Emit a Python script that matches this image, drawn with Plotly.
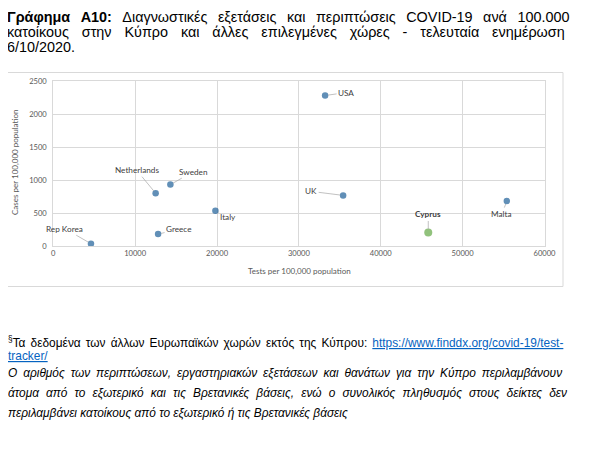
import plotly.graph_objects as go

W, H = 590, 451
OFF = 8  # page margin of the browser body

# data
countries = ["Rep Korea", "Greece", "Netherlands", "Sweden", "Italy", "USA", "UK", "Cyprus", "Malta"]
tests = [4600, 12800, 12500, 14300, 19800, 33200, 35400, 45800, 55400]
cases = [35, 180, 800, 930, 535, 2280, 767, 205, 680]

x_ticks = [0, 10000, 20000, 30000, 40000, 50000, 60000]
y_ticks = [0, 500, 1000, 1500, 2000, 2500]

title_lines = [
    "<b>Γράφημα A10:</b> Διαγνωστικές εξετάσεις και περιπτώσεις COVID-19 ανά 100.000",
    "κατοίκους στην Κύπρο και άλλες επιλεγμένες χώρες - τελευταία ενημέρωση",
    "6/10/2020.",
]
note_text = "Τα δεδομένα των άλλων Ευρωπαϊκών χωρών εκτός της Κύπρου: "
link_text = ["https://www.finddx.org/covid-19/test-", "tracker/"]
italic_lines = [
    "Ο αριθμός των περιπτώσεων, εργαστηριακών εξετάσεων και θανάτων για την Κύπρο περιλαμβάνουν",
    "άτομα από το εξωτερικό και τις Βρετανικές βάσεις, ενώ ο συνολικός πληθυσμός στους δείκτες δεν",
    "περιλαμβάνει κατοίκους από το εξωτερικό ή τις Βρετανικές βάσεις",
]

# label offsets in pixels (dx, dy) from each point
label_off = {
    "Rep Korea": (-26, -15), "Greece": (21, -5), "Netherlands": (-19, -23),
    "Sweden": (23, -13), "Italy": (13, 6), "USA": (21, -3), "UK": (-32, -4),
    "Cyprus": (0, -18), "Malta": (-5, 13),
}


def px(x):
    return (x - OFF) / W


def py(y):
    return 1 - (y - OFF) / H


blue = "#1e6099"
green = "#62a845"
colors = [green if c == "Cyprus" else blue for c in countries]
sizes = [8 if c == "Cyprus" else 6.5 for c in countries]
small = dict(family="Lato", size=8, color="#595959")

fig = go.Figure()
fig.add_trace(go.Scatter(
    x=tests, y=cases, mode="markers",
    marker=dict(color=colors, size=sizes, line=dict(width=0)),
    hoverinfo="skip", showlegend=False,
))

ann = []
for c, t, v in zip(countries, tests, cases):
    dx, dy = label_off[c]
    txt = "<b>%s</b>" % c if c == "Cyprus" else c
    ann.append(dict(x=t, y=v, xref="x", yref="y", text=txt, showarrow=True,
                    ax=dx, ay=dy, arrowhead=0, arrowwidth=0.7, arrowcolor="#a6a6a6",
                    standoff=3, font=dict(family="Lato", size=8.2, color="#404040")))

# axis titles
ann.append(dict(x=px(299), y=py(271), xref="paper", yref="paper", showarrow=False,
                text="Tests per 100,000 population", font=small))
ann.append(dict(x=px(8), y=py(163), xref="paper", yref="paper", showarrow=False,
                text="Cases per 100,000 population", textangle=-90, font=small))


def text_line(s, x, y, size, spacing=0, italic=False):
    if italic:
        s = "<i>%s</i>" % s
    if spacing:
        s = "<span style='word-spacing:%.1fpx'>%s</span>" % (spacing, s)
    return dict(x=px(x), y=py(y), xref="paper", yref="paper", text=s, showarrow=False,
                xanchor="left", yanchor="middle",
                font=dict(family="Liberation Sans", size=size, color="#000000"))


ann.append(text_line(title_lines[0], 5, 17, 14.4, 6.5))
ann.append(text_line(title_lines[1], 5, 32, 14.4, 8.9))
ann.append(text_line(title_lines[2], 5, 47, 14.4))

link_style = "color:#0563c1;text-decoration:underline"
ann.append(text_line("<sup>§</sup>" + note_text
                     + "<span style='%s'>%s</span>" % (link_style, link_text[0]),
                     6, 342, 11.9, 1.8))
ann.append(text_line("<span style='%s'>%s</span>" % (link_style, link_text[1]), 6, 355.5, 11.9))
ann.append(text_line(italic_lines[0], 6, 373, 11.9, 2.6, italic=True))
ann.append(text_line(italic_lines[1], 6, 393, 11.9, 3.8, italic=True))
ann.append(text_line(italic_lines[2], 6, 413, 11.9, italic=True))

axis_common = dict(showgrid=True, gridcolor="#d9d9d9", gridwidth=1, zeroline=False,
                   showline=True, mirror=True, linecolor="#d9d9d9", ticks="",
                   tickfont=dict(family="Lato", size=7.6, color="#595959"), automargin=False)

fig.update_layout(
    width=W, height=H, margin=dict(l=0, r=0, t=0, b=0),
    paper_bgcolor="white", plot_bgcolor="white",
    annotations=ann,
    shapes=[dict(type="rect", xref="paper", yref="paper", x0=px(5), x1=px(563),
                 y0=py(286.5), y1=py(72.5), line=dict(color="#d9d9d9", width=1))],
    xaxis=dict(domain=[px(53.3), px(544.5)], range=[0, 60000], tickvals=x_ticks,
               ticktext=[str(v) for v in x_ticks], **axis_common),
    yaxis=dict(domain=[py(246), py(81)], range=[0, 2500], tickvals=y_ticks,
               ticktext=[str(v) for v in y_ticks], ticklabelstandoff=4, **axis_common),
)

fig.write_html("out.html")
